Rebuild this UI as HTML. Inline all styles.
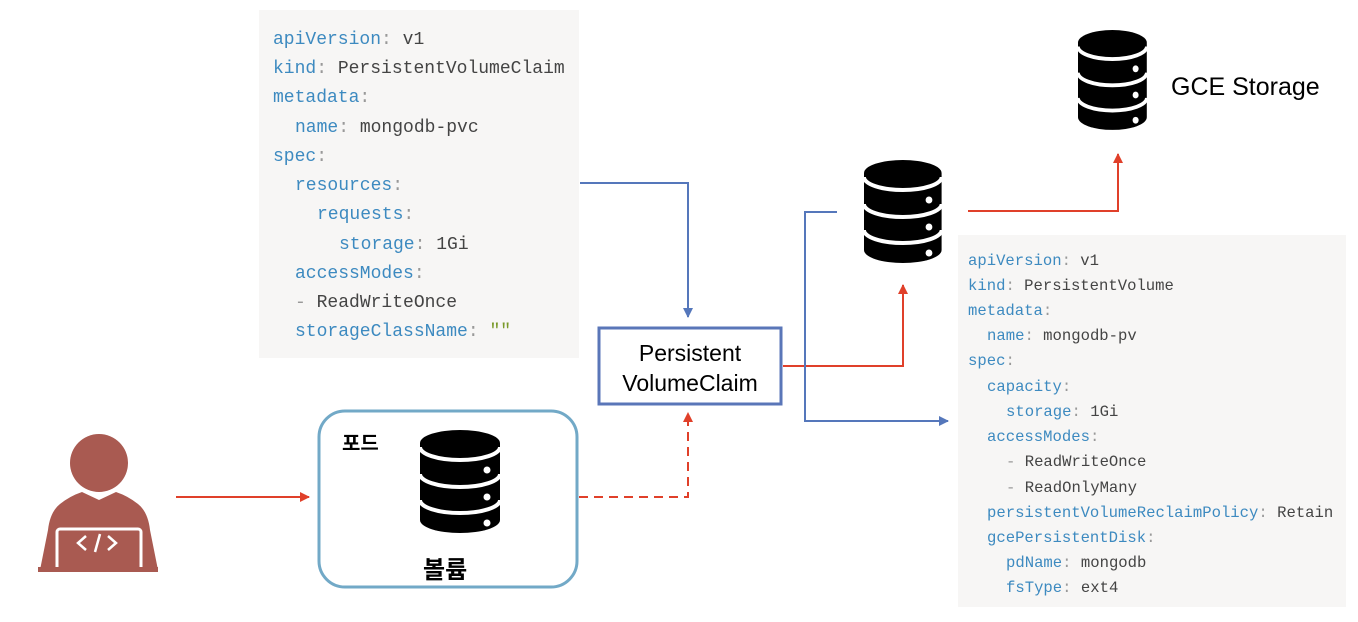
<!DOCTYPE html>
<html><head><meta charset="utf-8"><style>
html,body{margin:0;padding:0;background:#fff;}
svg{display:block;}
.m{font-family:"Liberation Mono",monospace;}
.k{fill:#3d8ac0;} .v{fill:#444;} .p{fill:#999;}
</style></head><body>
<svg width="1358" height="622" viewBox="0 0 1358 622" xmlns="http://www.w3.org/2000/svg">
<defs>
<g id="db">
<path d="M0,13 A40,13 0 0 1 80,13 V90 A40,13 0 0 1 0,90 Z" fill="#000"/>
<path d="M0,17 A40,13 0 0 0 80,17 M0,44 A40,13 0 0 0 80,44 M0,70 A40,13 0 0 0 80,70" fill="none" stroke="#fff" stroke-width="4"/>
<circle cx="67" cy="40" r="3.5" fill="#fff"/><circle cx="67" cy="67" r="3.5" fill="#fff"/><circle cx="67" cy="93" r="3.5" fill="#fff"/>
</g>
<marker id="ar" markerWidth="10" markerHeight="10" refX="9" refY="5" orient="auto" markerUnits="userSpaceOnUse"><path d="M0,0 L10,5 L0,10 Z" fill="#e0402a"/></marker>
<marker id="ab" markerWidth="10" markerHeight="10" refX="9" refY="5" orient="auto" markerUnits="userSpaceOnUse"><path d="M0,0 L10,5 L0,10 Z" fill="#5577bb"/></marker>
</defs>

<!-- left code box -->
<rect x="259" y="10" width="320" height="348" fill="#f7f6f5"/>
<g class="m" font-size="18">
<text x="273" y="44"><tspan class="k">apiVersion</tspan><tspan class="p">:</tspan><tspan class="v"> v1</tspan></text>
<text x="273" y="73"><tspan class="k">kind</tspan><tspan class="p">:</tspan><tspan class="v"> PersistentVolumeClaim</tspan></text>
<text x="273" y="102"><tspan class="k">metadata</tspan><tspan class="p">:</tspan></text>
<text x="295" y="132"><tspan class="k">name</tspan><tspan class="p">:</tspan><tspan class="v"> mongodb-pvc</tspan></text>
<text x="273" y="161"><tspan class="k">spec</tspan><tspan class="p">:</tspan></text>
<text x="295" y="190"><tspan class="k">resources</tspan><tspan class="p">:</tspan></text>
<text x="317" y="219"><tspan class="k">requests</tspan><tspan class="p">:</tspan></text>
<text x="339" y="249"><tspan class="k">storage</tspan><tspan class="p">:</tspan><tspan class="v"> 1Gi</tspan></text>
<text x="295" y="278"><tspan class="k">accessModes</tspan><tspan class="p">:</tspan></text>
<text x="295" y="307"><tspan class="p">-</tspan><tspan class="v"> ReadWriteOnce</tspan></text>
<text x="295" y="336"><tspan class="k">storageClassName</tspan><tspan class="p">:</tspan><tspan fill="#7a9a2a"> ""</tspan></text>
</g>

<!-- right code box -->
<rect x="958" y="235" width="388" height="372" fill="#f7f6f5"/>
<g class="m" font-size="15.6">
<text x="968" y="265"><tspan class="k">apiVersion</tspan><tspan class="p">:</tspan><tspan class="v"> v1</tspan></text>
<text x="968" y="290"><tspan class="k">kind</tspan><tspan class="p">:</tspan><tspan class="v"> PersistentVolume</tspan></text>
<text x="968" y="315"><tspan class="k">metadata</tspan><tspan class="p">:</tspan></text>
<text x="987" y="340"><tspan class="k">name</tspan><tspan class="p">:</tspan><tspan class="v"> mongodb-pv</tspan></text>
<text x="968" y="365"><tspan class="k">spec</tspan><tspan class="p">:</tspan></text>
<text x="987" y="391"><tspan class="k">capacity</tspan><tspan class="p">:</tspan></text>
<text x="1006" y="416"><tspan class="k">storage</tspan><tspan class="p">:</tspan><tspan class="v"> 1Gi</tspan></text>
<text x="987" y="441"><tspan class="k">accessModes</tspan><tspan class="p">:</tspan></text>
<text x="1006" y="466"><tspan class="p">-</tspan><tspan class="v"> ReadWriteOnce</tspan></text>
<text x="1006" y="492"><tspan class="p">-</tspan><tspan class="v"> ReadOnlyMany</tspan></text>
<text x="987" y="517"><tspan class="k">persistentVolumeReclaimPolicy</tspan><tspan class="p">:</tspan><tspan class="v"> Retain</tspan></text>
<text x="987" y="542"><tspan class="k">gcePersistentDisk</tspan><tspan class="p">:</tspan></text>
<text x="1006" y="567"><tspan class="k">pdName</tspan><tspan class="p">:</tspan><tspan class="v"> mongodb</tspan></text>
<text x="1006" y="592"><tspan class="k">fsType</tspan><tspan class="p">:</tspan><tspan class="v"> ext4</tspan></text>
</g>

<!-- DB icons -->
<use href="#db" transform="translate(420,430)"/>
<use href="#db" transform="translate(864,160) scale(0.97,1)"/>
<use href="#db" transform="translate(1078,30) scale(0.86,0.97)"/>
<text x="1171" y="95" font-family="Liberation Sans, sans-serif" font-size="25" fill="#000">GCE Storage</text>

<!-- PVC box -->
<rect x="599" y="328" width="182" height="76" fill="#fff" stroke="#5a76b8" stroke-width="3"/>
<g font-family="Liberation Sans, sans-serif" font-size="23" fill="#000" text-anchor="middle">
<text x="690" y="361">Persistent</text>
<text x="690" y="391">VolumeClaim</text>
</g>

<!-- pod box -->
<rect x="319" y="411" width="258" height="176" rx="26" fill="none" stroke="#72a9c7" stroke-width="3"/>
<text x="342" y="450" font-family="Liberation Sans, 'Noto Sans CJK KR', sans-serif" font-weight="bold" font-size="20">포드</text>
<text x="423" y="578" font-family="Liberation Sans, 'Noto Sans CJK KR', sans-serif" font-weight="bold" font-size="24">볼륨</text>

<!-- person -->
<g fill="#a95a51">
<circle cx="99" cy="463" r="29"/>
<path d="M60,504 Q70,496 82,492 L99,500 L116,492 Q128,496 138,504 Q148,512 150,530 L158,570 L40,570 L48,530 Q50,512 60,504 Z"/>
</g>
<rect x="57" y="529" width="84" height="42" rx="3" fill="none" stroke="#fff" stroke-width="3"/>
<rect x="38" y="567" width="120" height="5" fill="#a95a51"/>
<g stroke="#fff" stroke-width="2.5" fill="none">
<path d="M86,536 L78,543 L86,550 M108,536 L116,543 L108,550 M95,552 L100,534"/>
</g>

<!-- connectors -->
<g fill="none" stroke-width="2">
<path d="M580,183 H688 V317" stroke="#5577bb" marker-end="url(#ab)"/>
<path d="M176,497 H309" stroke="#e0402a" marker-end="url(#ar)"/>
<path d="M579,497 H688 V413" stroke="#e0402a" stroke-dasharray="9,6" marker-end="url(#ar)"/>
<path d="M783,366 H903 V285" stroke="#e0402a" marker-end="url(#ar)"/>
<path d="M837,212 H805 V421 H948" stroke="#5577bb" marker-end="url(#ab)"/>
<path d="M968,211 H1118 V154" stroke="#e0402a" marker-end="url(#ar)"/>
</g>
</svg>
</body></html>
